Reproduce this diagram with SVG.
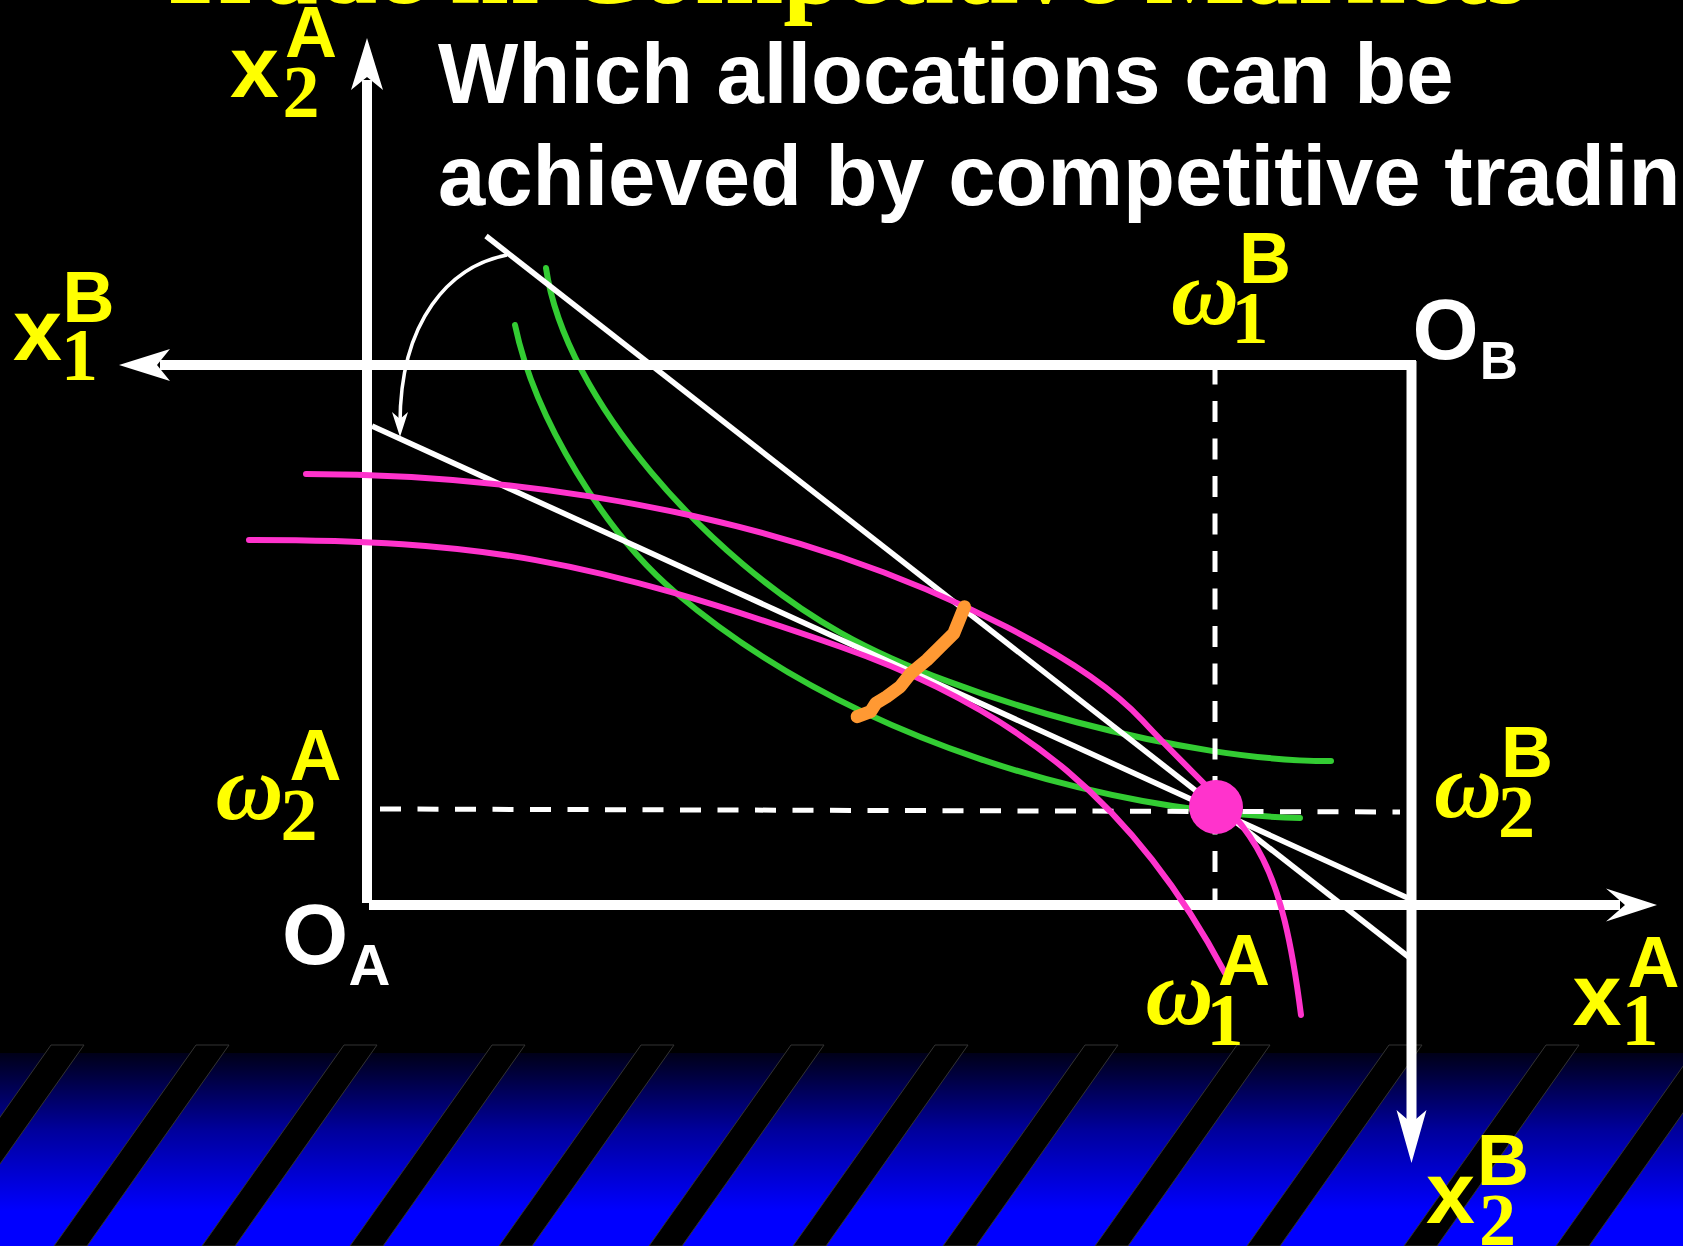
<svg xmlns="http://www.w3.org/2000/svg" width="1683" height="1246" viewBox="0 0 1683 1246">
<defs>
<linearGradient id="band" x1="0" y1="1053" x2="0" y2="1246" gradientUnits="userSpaceOnUse">
<stop offset="0" stop-color="#000018"/>
<stop offset="0.4" stop-color="#00009c"/>
<stop offset="0.82" stop-color="#0000ff"/>
<stop offset="1" stop-color="#0000ff"/>
</linearGradient>
<style>
.ax{stroke:#fff;stroke-width:10;fill:none}
.ah{fill:#fff}
.dash{stroke:#fff;stroke-width:5;stroke-dasharray:21 16.5;fill:none}
.bl{stroke:#fff;stroke-width:5.5;fill:none}
.g{stroke:#33cc33;stroke-width:6;fill:none;stroke-linecap:round}
.p{stroke:#ff33cc;stroke-width:6;fill:none;stroke-linecap:round}
.st{fill:#000;stroke:#333;stroke-width:1}
.sx{font-family:"Liberation Sans",Arial,sans-serif;font-weight:bold;fill:#ffff00;text-anchor:middle}
.sr{font-family:"Liberation Serif","Times New Roman",serif;font-weight:bold;fill:#ffff00;text-anchor:middle}
.om{font-family:"Liberation Serif","Times New Roman",serif;font-style:italic;font-weight:bold;fill:#ffff00;text-anchor:middle;font-size:94px}
.wt{font-family:"Liberation Sans",Arial,sans-serif;font-weight:bold;fill:#fff}
.xl{font-size:88px}
.sup{font-size:72px}
.dig{font-size:74px}
</style>
</defs>
<rect width="1683" height="1246" fill="#000"/>
<g id="band-bg">
<rect x="0" y="1053" width="1683" height="193" fill="url(#band)"/>
<polygon class="st" points="51,1045 84,1045 -58,1246 -91,1246"/>
<polygon class="st" points="196,1045 229,1045 87,1246 54,1246"/>
<polygon class="st" points="344,1045 377,1045 235,1246 202,1246"/>
<polygon class="st" points="492,1045 525,1045 383,1246 350,1246"/>
<polygon class="st" points="641,1045 674,1045 532,1246 499,1246"/>
<polygon class="st" points="791,1045 824,1045 682,1246 649,1246"/>
<polygon class="st" points="935,1045 968,1045 826,1246 793,1246"/>
<polygon class="st" points="1085,1045 1118,1045 976,1246 943,1246"/>
<polygon class="st" points="1237,1045 1270,1045 1128,1246 1095,1246"/>
<polygon class="st" points="1389,1045 1422,1045 1280,1246 1247,1246"/>
<polygon class="st" points="1546,1045 1579,1045 1437,1246 1404,1246"/>
<polygon class="st" points="1698,1045 1731,1045 1589,1246 1556,1246"/>
</g>
<text id="title" x="841.5" y="3" font-family="'Liberation Serif','Times New Roman',serif" font-weight="bold" font-size="106" fill="#ffff00" text-anchor="middle">Trade in Competitive Markets</text>
<g id="question" class="wt" font-size="85">
<text x="438" y="103">Which allocations can be</text>
<text x="438" y="205">achieved by competitive tradin</text>
</g>
<g id="connectors">
<g id="indiff-B">
<path class="g" d="M546,268 C565,400 710,560 841,633 C960,700 1190,762 1331,761"/>
<path class="g" d="M515,325 C535,420 606,534 676,593 C850,740 1100,812 1300,818"/>
</g>
<line class="dash" x1="1215" y1="363.5" x2="1215" y2="905"/>
<line class="dash" x1="380" y1="809" x2="1400" y2="812"/>
<g id="budget-lines">
<line class="bl" x1="486" y1="236" x2="1410" y2="958"/>
<line class="bl" x1="372" y1="426" x2="1410" y2="899"/>
</g>
<g id="axes">
<line class="ax" x1="367" y1="903" x2="367" y2="80"/>
<path class="ah" d="M367,38 L383,90 L367,77 L351,90 Z"/>
<line class="ax" x1="160" y1="365" x2="1416" y2="365"/>
<path class="ah" d="M119,365 L170,349 L157,365 L170,381 Z"/>
<line class="ax" x1="1411.5" y1="361" x2="1411.5" y2="1125"/>
<path class="ah" d="M1411.5,1163 L1426.5,1110 L1411.5,1123 L1396.5,1110 Z"/>
<line class="ax" x1="369" y1="905" x2="1620" y2="905"/>
<path class="ah" d="M1657,905 L1606,888.5 L1625,905 L1606,921.5 Z"/>
</g>
<g id="indiff-A">
<path class="p" d="M306,474 C500,474 691,506 841,557 C941,591 1082,655 1142,720 C1244,830 1277,826 1301,1015"/>
<path class="p" d="M249,540 C479,540 586,558 841,647 C1020,710 1136,805 1225,973"/>
</g>
<path id="contract-curve" d="M964.5,606.7 L953.8,633.3 L940.4,646.7 L926.9,660 L910.8,673.3 L900.1,686.7 L886.6,696.7 L875.9,703.3 L870.5,711.7 L857.1,716.7" fill="none" stroke="#ff9933" stroke-width="13" stroke-linecap="round" stroke-linejoin="round"/>
<g id="pivot-arrow">
<path d="M507,255 C450,266 400,320 400,424" fill="none" stroke="#fff" stroke-width="3.5"/>
<path class="ah" d="M400,437 L408,412 L400,419 L392,412 Z"/>
</g>
</g>
<circle id="endowment" cx="1216" cy="807" r="27" fill="#ff33cc"/>
<g id="label-x2A"><text class="sx xl" x="254.5" y="97">x</text><text class="sr dig" x="301" y="117">2</text><text class="sx sup" x="311" y="57">A</text></g>
<g id="label-x1B"><text class="sx xl" x="37.5" y="360">x</text><text class="sr dig" x="79.5" y="380">1</text><text class="sx sup" x="88.5" y="322">B</text></g>
<g id="label-w1B"><text class="om" x="1205" y="324">ω</text><text class="sr dig" x="1250" y="343">1</text><text class="sx sup" x="1265" y="283">B</text></g>
<g id="label-OB"><text class="wt" x="1445.5" y="359" font-size="85" text-anchor="middle">O</text><text class="wt" x="1499" y="379" font-size="53" text-anchor="middle">B</text></g>
<g id="label-w2A"><text class="om" x="249.5" y="819">ω</text><text class="sr dig" x="299" y="840">2</text><text class="sx sup" x="315.5" y="780">A</text></g>
<g id="label-w2B"><text class="om" x="1468" y="817">ω</text><text class="sr dig" x="1516.5" y="837">2</text><text class="sx sup" x="1527" y="777">B</text></g>
<g id="label-OA"><text class="wt" x="315" y="964" font-size="85" text-anchor="middle">O</text><text class="wt" x="369.5" y="985" font-size="58" text-anchor="middle">A</text></g>
<g id="label-w1A"><text class="om" x="1179.5" y="1024">ω</text><text class="sr dig" x="1225" y="1045">1</text><text class="sx sup" x="1244" y="985">A</text></g>
<g id="label-x1A"><text class="sx xl" x="1597" y="1025">x</text><text class="sr dig" x="1640" y="1045">1</text><text class="sx sup" x="1653.5" y="987">A</text></g>
<g id="label-x2B"><text class="sx xl" x="1450.5" y="1223">x</text><text class="sr dig" x="1497.5" y="1245">2</text><text class="sx sup" x="1503" y="1185">B</text></g>
</svg>
